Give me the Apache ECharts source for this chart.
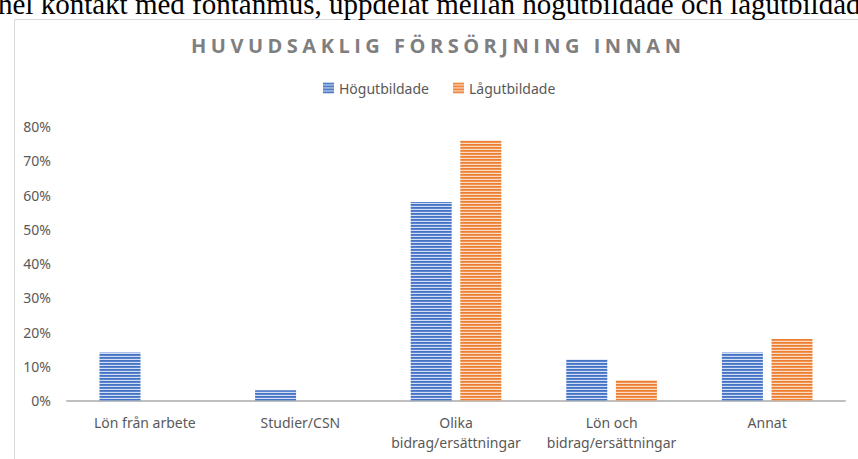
<!DOCTYPE html>
<html>
<head>
<meta charset="utf-8">
<script src="https://cdn.jsdelivr.net/npm/echarts@6/dist/echarts.min.js"></script>
<style>
html,body{margin:0;padding:0;background:#fff;}
#c{width:858px;height:459px;}
#c text[style*="Open Sans"]{letter-spacing:4.5px;}
</style>
</head>
<body>
<div id="c"></div>
<script>
const categories = ["Lön från arbete", "Studier/CSN", "Olika\nbidrag/ersättningar", "Lön och\nbidrag/ersättningar", "Annat"];
const seriesNames = ["Högutbildade", "Lågutbildade"];
const hogutbildade = [0.14, 0.03, 0.58, 0.12, 0.14];
const lagutbildade = [0, 0, 0.76, 0.06, 0.18];
const yTicks = [0, 0.1, 0.2, 0.3, 0.4, 0.5, 0.6, 0.7, 0.8];
const titleText = "HUVUDSAKLIG FÖRSÖRJNING INNAN";
const captionText = "hel kontakt med fontanmus, uppdelat mellan högutbildade och lågutbildade";

function stripe(rows) {
  const cv = document.createElement('canvas');
  cv.width = 4; cv.height = rows.length;
  const ctx = cv.getContext('2d');
  rows.forEach((c, i) => { ctx.fillStyle = c; ctx.fillRect(0, i, 4, 1); });
  return { image: cv.toDataURL(), repeat: 'repeat' };
}
const bluePat = stripe(['#4472c4', '#5a84cd', '#d2ddf1']);
const orangePat = stripe(['#ed7d31', '#f09452', '#fbdcc6']);

const chart = echarts.init(document.getElementById('c'), null, { renderer: 'svg' });
chart.setOption({
  animation: false,
  backgroundColor: '#fff',
  graphic: [
    { type: 'rect', shape: { x: 14.5, y: 19.5, width: 900, height: 500 }, style: { fill: 'none', stroke: '#d9d9d9', lineWidth: 1 }, silent: true, z: -1 },
    { type: 'text', left: -2, top: -11, style: { text: captionText, font: '29px "Liberation Serif", "DejaVu Serif", serif', fill: '#000' }, silent: true }
  ],
  title: {
    text: titleText,
    left: 186,
    top: 30,
    textStyle: { fontFamily: 'Open Sans', fontWeight: 'bold', fontSize: 20, color: '#7f7f7f' }
  },
  legend: {
    top: 76,
    left: 318,
    itemWidth: 11, itemHeight: 11, itemGap: 24,
    icon: 'rect',
    textStyle: { fontFamily: 'Noto Sans', fontSize: 14, color: '#595959' },
    data: seriesNames
  },
  grid: { left: 67, right: 13, top: 126.7, bottom: 58.5, containLabel: false },
  xAxis: {
    type: 'category',
    data: categories,
    axisLine: { lineStyle: { color: '#bfbfbf', width: 2 } },
    axisTick: { show: false },
    axisLabel: { fontFamily: 'Noto Sans', fontSize: 14, color: '#595959', margin: 12, lineHeight: 20, interval: 0 }
  },
  yAxis: {
    type: 'value',
    min: 0, max: 0.8, interval: 0.1,
    splitLine: { show: false },
    axisLine: { show: false },
    axisTick: { show: false },
    axisLabel: { fontFamily: 'Noto Sans', fontSize: 14, color: '#595959', margin: 16,
      formatter: v => Math.round(v * 100) + '%' }
  },
  series: [
    { name: seriesNames[0], type: 'bar', data: hogutbildade, barWidth: 41, barGap: '21%', itemStyle: { color: bluePat } },
    { name: seriesNames[1], type: 'bar', data: lagutbildade, barWidth: 41, barGap: '21%', itemStyle: { color: orangePat } }
  ]
});
</script>
</body>
</html>
